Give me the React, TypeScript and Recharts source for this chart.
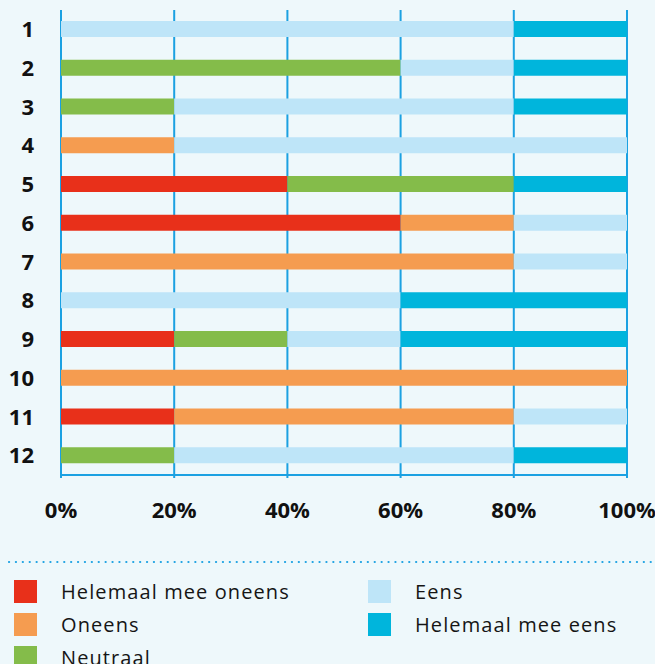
import { Bar, BarChart, CartesianGrid, XAxis, YAxis } from "recharts";

const statements = ["1", "2", "3", "4", "5", "6", "7", "8", "9", "10", "11", "12"];
const helemaalOneens = [0, 0, 0, 0, 40, 60, 0, 0, 20, 0, 20, 0];
const oneens = [0, 0, 0, 20, 0, 20, 80, 0, 0, 100, 60, 0];
const neutraal = [0, 60, 20, 0, 40, 0, 0, 0, 20, 0, 0, 20];
const eens = [80, 20, 60, 80, 0, 20, 20, 60, 20, 0, 20, 60];
const helemaalEens = [20, 20, 20, 0, 20, 0, 0, 40, 40, 0, 0, 20];
const xTicks = [0, 20, 40, 60, 80, 100];

const series = [
  { key: "hmo", name: "Helemaal mee oneens", color: "#e8301a" },
  { key: "on", name: "Oneens", color: "#f59c50" },
  { key: "neu", name: "Neutraal", color: "#84bc4a" },
  { key: "eens", name: "Eens", color: "#bee5f8" },
  { key: "hme", name: "Helemaal mee eens", color: "#00b5dc" },
];

const data = statements.map((s, i) => ({
  name: s,
  hmo: helemaalOneens[i],
  on: oneens[i],
  neu: neutraal[i],
  eens: eens[i],
  hme: helemaalEens[i],
}));

const BLUE = "#1ba1e2";
const FONT = "'Open Sans', 'Noto Sans', sans-serif";
const tickStyle = { fill: "#111", fontSize: 22, fontWeight: 700, fontFamily: FONT };

export default function App() {
  const legendCols = [series.slice(0, 3), series.slice(3)];
  return (
    <div
      style={{
        position: "absolute",
        left: 0,
        top: 0,
        width: 655,
        height: 664,
        background: "#eef8fb",
        fontFamily: FONT,
        overflow: "hidden",
      }}
    >
      <BarChart
        width={655}
        height={540}
        data={data}
        layout="vertical"
        margin={{ top: 10, right: 28, left: 0, bottom: 15 }}
        barCategoryGap={0}
        barSize={16}
      >
        <CartesianGrid horizontal={false} stroke={BLUE} strokeWidth={2} />
        <XAxis
          type="number"
          domain={[0, 100]}
          ticks={xTicks}
          tickFormatter={(v) => `${v}%`}
          axisLine={{ stroke: BLUE, strokeWidth: 2 }}
          tickLine={{ stroke: BLUE, strokeWidth: 2 }}
          tickSize={3}
          tickMargin={24}
          height={50}
          tick={tickStyle}
          interval={0}
        />
        <YAxis
          type="category"
          dataKey="name"
          width={61}
          axisLine={false}
          tickLine={false}
          tickMargin={21}
          tick={tickStyle}
          interval={0}
        />
        {series.map((s) => (
          <Bar key={s.key} dataKey={s.key} name={s.name} stackId="a" fill={s.color} isAnimationActive={false} />
        ))}
      </BarChart>
      <svg style={{ position: "absolute", left: 0, top: 556 }} width={655} height={12}>
        <line x1={9} y1={6} x2={655} y2={6} stroke={BLUE} strokeWidth={2.2} strokeDasharray="0.1 6.8" strokeLinecap="round" />
      </svg>
      {legendCols.map((col, ci) => (
        <div key={ci} style={{ position: "absolute", left: ci === 0 ? 14 : 368, top: 575 }}>
          {col.map((s) => (
            <div key={s.key} style={{ display: "flex", alignItems: "center", height: 33 }}>
              <div style={{ width: 23, height: 23, background: s.color, marginRight: 24 }} />
              <span style={{ fontSize: 20, letterSpacing: 1.1, color: "#151515" }}>{s.name}</span>
            </div>
          ))}
        </div>
      ))}
    </div>
  );
}
